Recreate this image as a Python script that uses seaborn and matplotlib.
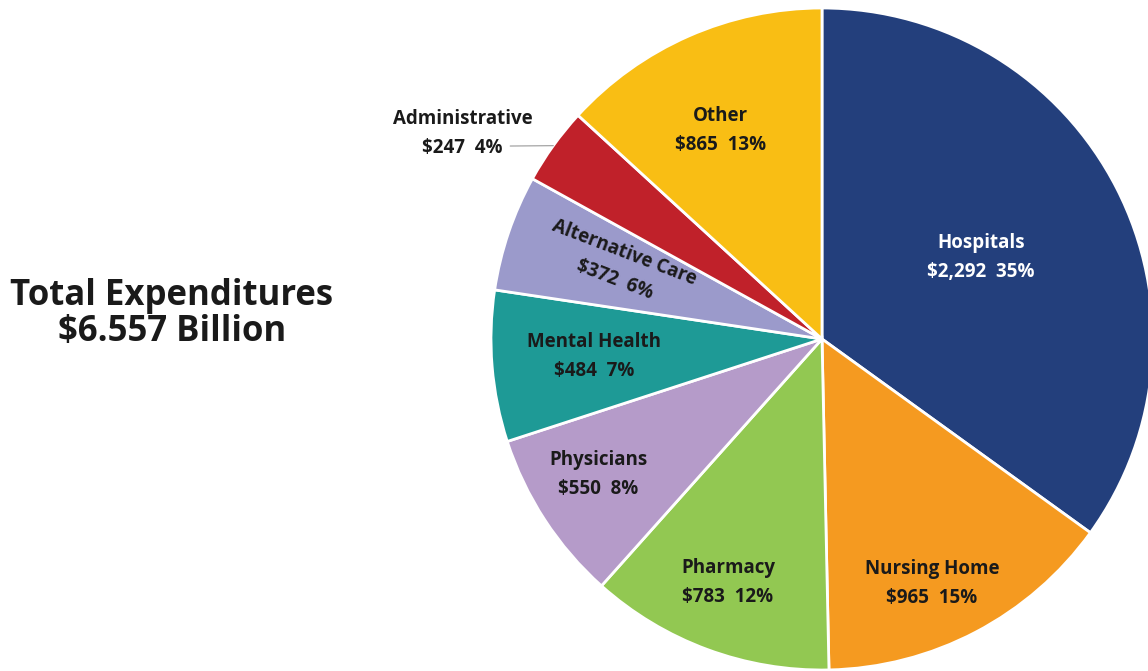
import numpy as np
import pandas as pd
import seaborn as sns
import matplotlib.pyplot as plt

sns.set_theme(style="white")
plt.rcParams['font.family'] = ['Open Sans', 'DejaVu Sans']

categories = ['Hospitals', 'Nursing Home', 'Pharmacy', 'Physicians',
              'Mental Health', 'Alternative Care', 'Administrative', 'Other']
amounts = [2292, 965, 783, 550, 484, 372, 247, 865]
colors = ['#233f7c', '#f59a20', '#92c852', '#b59bc9',
          '#1e9a96', '#9b9acb', '#c0212a', '#f9be14']
total_label = 'Total Expenditures\n$6.557 Billion'

df = pd.DataFrame({'category': categories, 'amount': amounts, 'color': colors})
df['pct'] = df['amount'] / df['amount'].sum() * 100

# label placement: radius (fraction of R), angle nudge (deg), rotation
label_r = [0.54, 0.81, 0.79, 0.79, 0.69, 0.65, 1.25, 0.70]
label_dang = [0, -3.5, -0.8, -2, -0.4, -1, 6, 2.3]
label_rot = [0, 0, 0, 0, 0, -21, 0, 0]

W, H = 1148, 671
cx, cy, R = 822, 332, 331

fig = plt.figure(figsize=(W / 100, H / 100), dpi=100)
ax = fig.add_axes([0, 0, 1, 1])

wedges, _ = ax.pie(df['amount'], colors=df['color'], startangle=90,
                   counterclock=False, center=(cx, cy), radius=R,
                   wedgeprops=dict(edgecolor='white', linewidth=2))
ax.set_xlim(0, W)
ax.set_ylim(0, H)
ax.set_aspect('equal')
ax.axis('off')

fs = 13.5
for i, w in enumerate(wedges):
    mid = (w.theta1 + w.theta2) / 2
    ang = np.deg2rad(mid + label_dang[i])
    row = df.iloc[i]
    txt = f"{row['category']}\n${row['amount']:,}  {row['pct']:.0f}%"
    tcol = 'white' if i == 0 else '#1a1a1a'
    x = cx + label_r[i] * R * np.cos(ang)
    y = cy + label_r[i] * R * np.sin(ang)
    if label_r[i] > 1:
        edge = np.deg2rad(mid)
        ax.annotate(txt, xy=(cx + R * np.cos(edge), cy + R * np.sin(edge)),
                    xytext=(x, y), ha='center', va='center', fontsize=fs,
                    fontweight='bold', color=tcol, linespacing=1.6,
                    arrowprops=dict(arrowstyle='-', color='#999999', lw=0.8,
                                    shrinkA=0, shrinkB=0, patchA=None,
                                    relpos=(0.84, 0.25)))
    else:
        ax.text(x, y, txt, ha='center', va='center', fontsize=fs,
                fontweight='bold', color=tcol, rotation=label_rot[i],
                linespacing=1.6, rotation_mode='anchor')

ax.text(172, 357, total_label, ha='center', va='center', fontsize=25,
        fontweight='bold', color='#1a1a1a', linespacing=1.0)

fig.savefig('out.png', dpi=100)
